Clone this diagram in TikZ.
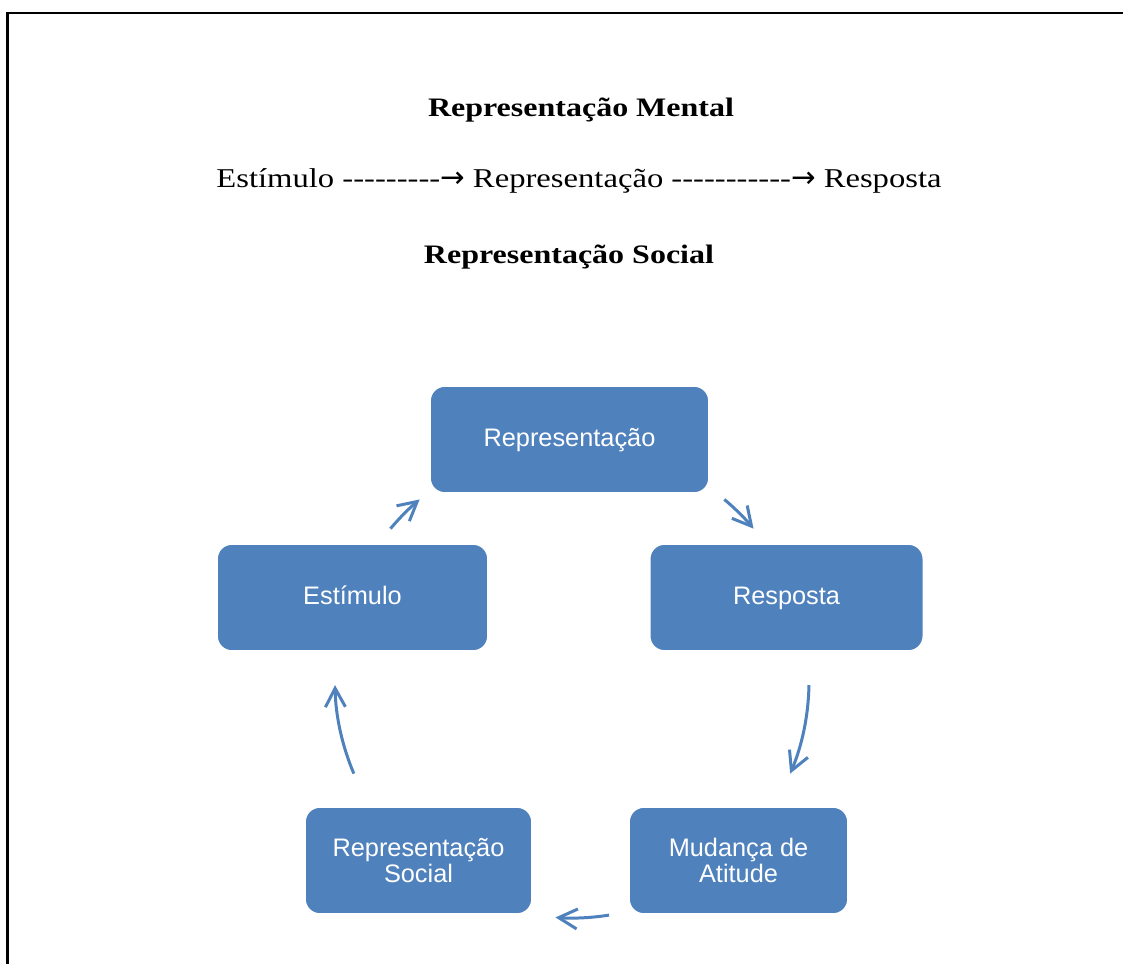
\documentclass[tikz,border=0pt]{standalone}
\usepackage{fontspec}
\setmainfont{Liberation Serif}[FakeStretch=1.2]
\setsansfont{Liberation Sans}
\newfontfamily\arrowfont{DejaVu Sans}
\usetikzlibrary{arrows.meta}
\definecolor{smartblue}{HTML}{4F81BD}
\newcommand{\dashrun}[1]{\foreach \k in {1,...,#1}{\mbox{-}}}
\newcommand{\rarr}{{\arrowfont\fontsize{22}{24}\selectfont →}}

\begin{document}
\begin{tikzpicture}[x=0.75pt, y=-0.75pt,
      box/.style={rectangle, fill=smartblue, draw=white, line width=1pt,
        rounded corners=11pt, minimum height=80pt, align=center,
        text=white, font=\sffamily\fontsize{19}{20}\selectfont},
      oneline/.style={text height=14pt, text depth=4pt},
      ttl/.style={anchor=base, font=\bfseries\fontsize{20}{24}\selectfont},
      cyc/.style={-{Straight Barb[length=14pt,width=15pt]},
        line width=2.25pt, color=smartblue}
    ]
      \useasboundingbox (0,0) rectangle (1123,963);
      \draw[line width=2pt] (1125,13) -| (7.5,965);
      \node[ttl] (mental) at (581,117) {Representação Mental};
      \node[anchor=base, font=\fontsize{20.4}{24}\selectfont] (chain) at (579,187)
        {Estímulo \dashrun{9}\rarr\ Representação \dashrun{11}\rarr\ Resposta};
      \node[ttl] (social) at (569,263) {Representação Social};
      \node[box, oneline, minimum width=209pt] (rep)  at (569.5,439.5) {Representação};
      \node[box, oneline, minimum width=203pt] (est)  at (352.5,597.5) {Estímulo};
      \node[box, oneline, minimum width=205pt] (resp) at (786.5,597.5) {Resposta};
      \node[box, minimum width=170pt] (rsoc) at (418.5,860.5) {Representação\\Social};
      \node[box, minimum width=164pt] (mud)  at (738.5,860.5) {Mudança de\\Atitude};
      \coordinate (ctr) at (572,681);
      \draw[cyc] ([shift={(220:237)}]ctr) arc[start angle=220, end angle=230, radius=237];
      \draw[cyc] ([shift={(310:237)}]ctr) arc[start angle=310, end angle=320, radius=237];
      \draw[cyc] ([shift={(1:237)}]ctr) arc[start angle=1, end angle=23, radius=237];
      \draw[cyc] ([shift={(81:237)}]ctr) arc[start angle=81, end angle=94, radius=237];
      \draw[cyc] ([shift={(157:237)}]ctr) arc[start angle=157, end angle=179, radius=237];
    \end{tikzpicture}
\end{document}
